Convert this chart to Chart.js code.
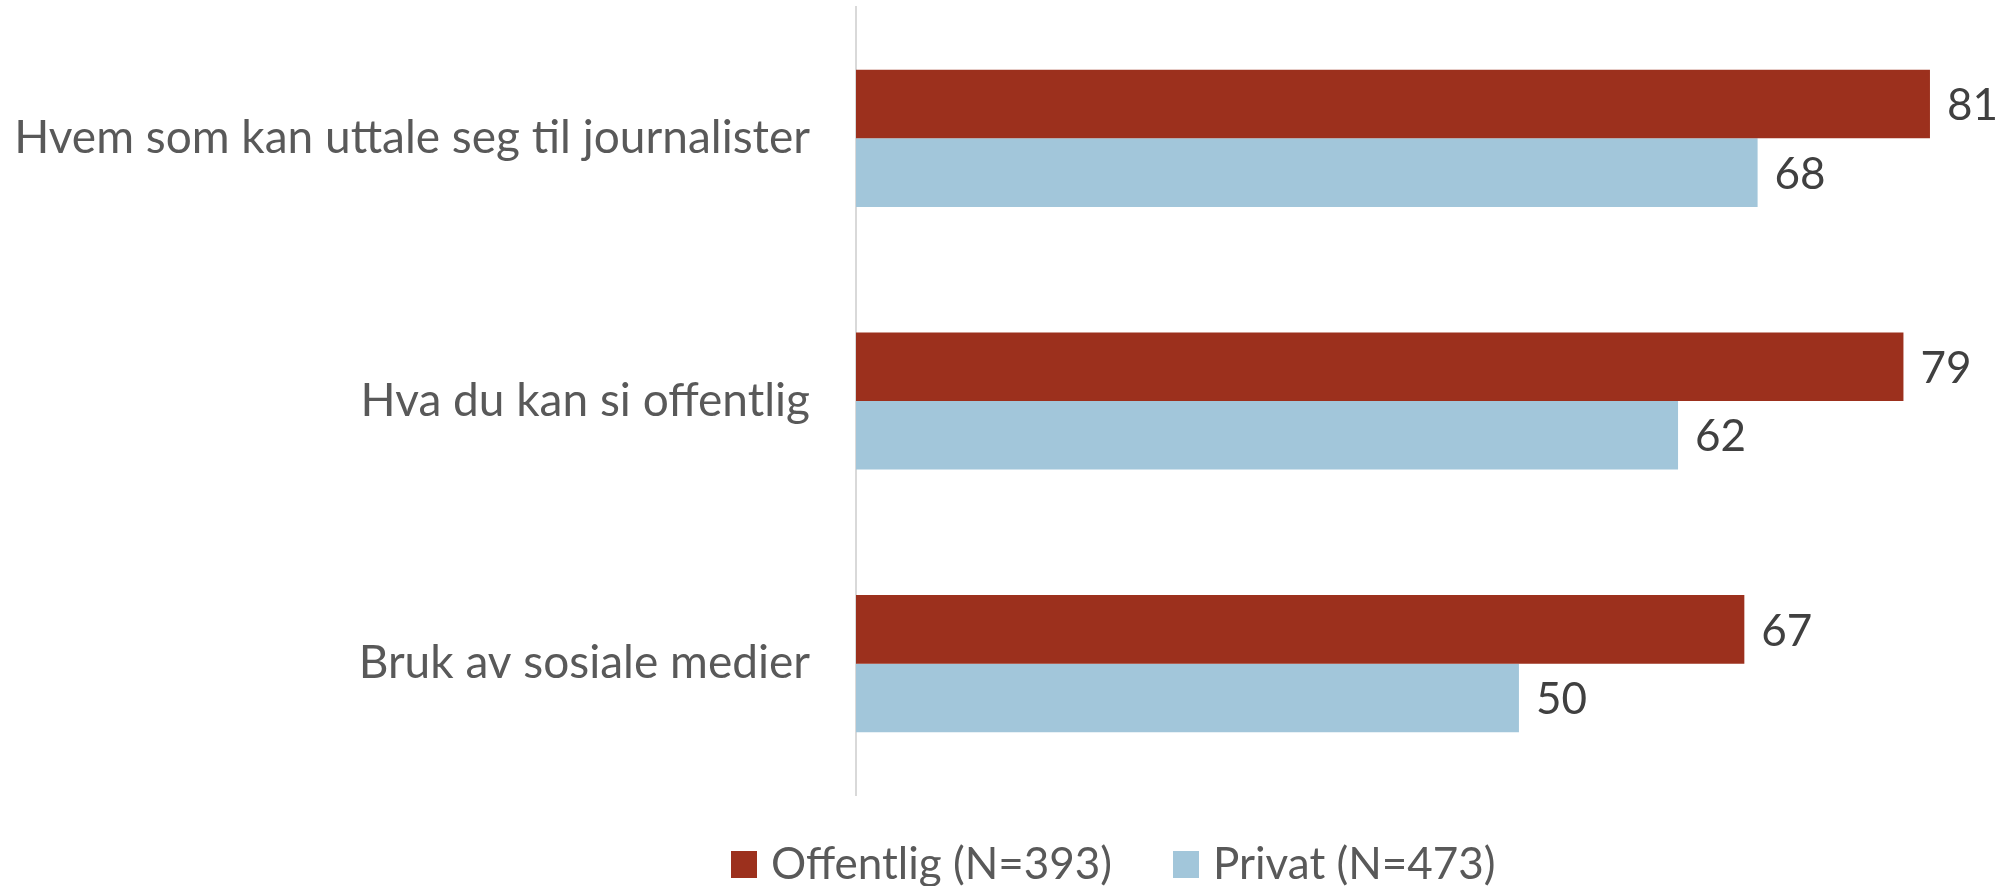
<!DOCTYPE html>
<html>
<head>
<meta charset="utf-8">
<script src="https://cdn.jsdelivr.net/npm/chart.js@4.4.1/dist/chart.umd.min.js"></script>
<style>
  html, body { margin: 0; padding: 0; background: #ffffff; }
  #wrap { position: relative; width: 2004px; height: 886px; overflow: hidden; }
  #c { position: absolute; left: 0; top: 0; }
  .leg { position: absolute; top: 838px; height: 48px; display: flex; align-items: center;
         font-family: Lato, "Open Sans", sans-serif; font-size: 44px; color: #595959; white-space: nowrap; }
  .leg .box { width: 26px; height: 27px; margin-right: 14px; margin-top: 4px; }
</style>
</head>
<body>
<div id="wrap">
  <canvas id="c" width="2004" height="886"></canvas>
  <div class="leg" id="leg0" style="left:731px"><span class="box"></span><span class="txt"></span></div>
  <div class="leg" id="leg1" style="left:1173px"><span class="box"></span><span class="txt"></span></div>
</div>
<script>
const categories = ["Hvem som kan uttale seg til journalister", "Hva du kan si offentlig", "Bruk av sosiale medier"];
const seriesNames = ["Offentlig (N=393)", "Privat (N=473)"];
const offentlig = [81, 79, 67];
const privat = [68, 62, 50];

const colors = ["#9c301d", "#a2c6da"];
const FONT = "Lato, 'Open Sans', sans-serif";

// HTML legend
seriesNames.forEach((n, i) => {
  const el = document.getElementById("leg" + i);
  el.querySelector(".box").style.background = colors[i];
  el.querySelector(".txt").textContent = n;
});

const valueLabels = {
  id: "valueLabels",
  afterDatasetsDraw(chart) {
    const ctx = chart.ctx;
    ctx.save();
    ctx.font = "44px " + FONT;
    ctx.fillStyle = "#404040";
    ctx.textAlign = "left";
    ctx.textBaseline = "middle";
    chart.data.datasets.forEach((ds, di) => {
      const meta = chart.getDatasetMeta(di);
      meta.data.forEach((bar, i) => {
        ctx.fillText(String(ds.data[i]), bar.x + 17, bar.y + 2);
      });
    });
    ctx.restore();
  }
};

function draw() {
  new Chart(document.getElementById("c"), {
    type: "bar",
    data: {
      labels: categories,
      datasets: [
        { label: seriesNames[0], data: offentlig, backgroundColor: colors[0] },
        { label: seriesNames[1], data: privat, backgroundColor: colors[1] }
      ]
    },
    options: {
      indexAxis: "y",
      responsive: false,
      animation: false,
      devicePixelRatio: 1,
      layout: { padding: { top: 7, bottom: 91, right: 21, left: 0 } },
      datasets: { bar: { categoryPercentage: 0.522, barPercentage: 1.0 } },
      plugins: { legend: { display: false }, tooltip: { enabled: false } },
      scales: {
        x: { display: false, min: 0, max: 85 },
        y: {
          afterFit(scale) { scale.width = 856; },
          grid: { display: true, drawOnChartArea: false, drawTicks: true, tickLength: 46, tickColor: "rgba(0,0,0,0)", color: "rgba(0,0,0,0)" },
          border: { display: true, color: "#d9d9d9", width: 2 },
          ticks: { padding: 0, color: "#595959", font: { family: FONT, size: 46, lineHeight: 0.2 } }
        }
      }
    },
    plugins: [valueLabels]
  });
}

if (document.fonts && document.fonts.load) {
  document.fonts.load("44px Lato").then(draw, draw);
} else { draw(); }
</script>
</body>
</html>
